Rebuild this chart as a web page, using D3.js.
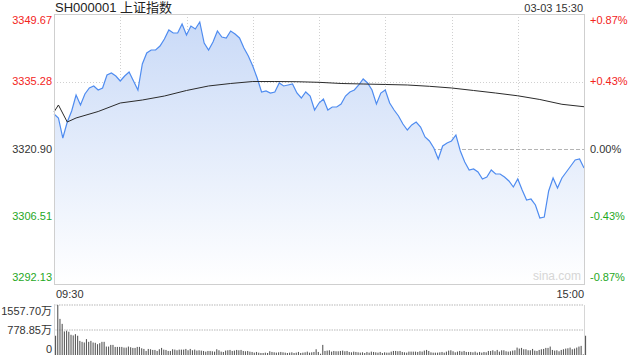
<!DOCTYPE html>
<html>
<head>
<meta charset="utf-8">
<script src="https://cdn.jsdelivr.net/npm/d3@7"></script>
<style>
body { margin: 0; background: #fff; }
svg { display: block; font-family: Arial, "Liberation Sans", "Noto Sans CJK SC", sans-serif; }
</style>
</head>
<body>
<div id="chart"></div>
<script>
var title = "SH000001 上证指数"
var stamp = "03-03 15:30"
var prevClose = 3320.90
var priceTicks = [3349.67, 3335.28, 3320.90, 3306.51, 3292.13]
var pctTicks = ["+0.87%", "+0.43%", "0.00%", "-0.43%", "-0.87%"]
var timeLabels = ["09:30", "15:00"]
var volTicks = [1557.70, 778.85, 0]
var volTickLabels = ["1557.70万", "778.85万", "0"]

// price every 2 minutes (minute index 0..240)
var price = [3328.36, 3327.51, 3323.24, 3326.65, 3329.00, 3332.41, 3330.28, 3332.62, 3333.90, 3334.33,
  3333.47, 3333.90, 3336.67, 3337.10, 3336.46, 3335.39, 3336.46, 3337.31, 3335.39, 3333.47,
  3339.01, 3341.36, 3342.00, 3342.00, 3342.85, 3344.34, 3346.26, 3345.62, 3345.62, 3347.54,
  3345.19, 3347.11, 3346.47, 3347.97, 3343.49, 3342.00, 3343.70, 3346.05, 3344.77, 3344.56,
  3346.05, 3345.41, 3344.56, 3342.42, 3340.72, 3338.59, 3336.03, 3333.05, 3333.26, 3332.83,
  3333.05, 3334.97, 3334.33, 3334.54, 3334.75, 3332.83, 3331.77, 3333.05, 3332.19, 3329.21,
  3330.70, 3331.56, 3329.21, 3329.85, 3329.85, 3330.49, 3332.19, 3333.05, 3333.47, 3334.54,
  3335.82, 3334.97, 3333.47, 3330.49, 3332.83, 3333.47, 3330.70, 3329.21, 3327.93, 3326.23,
  3324.95, 3326.02, 3326.65, 3325.59, 3323.46, 3322.61, 3321.11, 3318.77, 3321.54, 3322.18,
  3322.61, 3323.88, 3320.47, 3318.13, 3316.42, 3316.64, 3316.00, 3314.51, 3314.93, 3316.42,
  3315.57, 3315.57, 3314.93, 3314.08, 3312.80, 3314.51, 3312.16, 3310.03, 3310.24, 3308.97,
  3306.20, 3306.41, 3311.95, 3314.72, 3312.59, 3314.72, 3316.00, 3317.28, 3318.56, 3318.77,
  3316.85]

// average price line
var avgMinutes = [0, 2, 6, 10, 20, 30, 40, 50, 60, 70, 80, 90, 100, 110, 120, 130, 140, 150, 160, 170, 180, 190, 200, 210, 220, 230, 240]
var avgPrice = [3328.79, 3330.28, 3326.65, 3327.51, 3328.89, 3330.70, 3331.34, 3332.19, 3333.37, 3334.33,
  3334.86, 3335.28, 3335.28, 3335.24, 3335.11, 3334.86, 3334.75, 3334.65, 3334.54, 3334.26,
  3333.90, 3333.37, 3332.83, 3332.24, 3331.45, 3330.43, 3329.91]

// volume per minute, 万
var volume = [600, 1557.7, 1125, 970, 735, 757, 725, 630, 610, 650,
  600, 440, 410, 390, 495, 410, 440, 390, 380, 337,
  368, 410, 410, 263, 263, 315, 315, 252, 252, 252,
  252, 231, 231, 263, 242, 221, 221, 252, 252, 210,
  189, 126, 189, 179, 158, 158, 126, 179, 221, 168,
  158, 126, 126, 179, 168, 147, 168, 168, 168, 189,
  147, 189, 147, 168, 137, 147, 137, 126, 105, 126,
  126, 116, 105, 179, 147, 105, 95, 137, 147, 158,
  126, 137, 158, 147, 158, 126, 116, 126, 105, 95,
  74, 95, 74, 63, 63, 74, 63, 116, 95, 84,
  74, 84, 95, 84, 74, 63, 74, 84, 63, 74,
  95, 63, 74, 84, 105, 74, 84, 95, 179, 95,
  40, 315, 126, 137, 147, 105, 126, 116, 116, 126,
  137, 116, 126, 95, 84, 105, 95, 84, 74, 84,
  63, 95, 74, 105, 95, 84, 74, 95, 63, 84,
  74, 74, 105, 126, 126, 116, 126, 95, 84, 74,
  105, 105, 105, 105, 95, 116, 105, 137, 158, 126,
  84, 74, 74, 74, 84, 95, 74, 105, 137, 147,
  116, 84, 105, 126, 105, 126, 95, 95, 95, 84,
  105, 74, 95, 74, 95, 84, 126, 126, 147, 116,
  158, 105, 147, 147, 116, 105, 116, 137, 147, 231,
  200, 221, 179, 179, 147, 147, 189, 137, 126, 158,
  179, 189, 221, 221, 263, 158, 137, 147, 116, 158,
  179, 200, 210, 231, 179, 200, 231, 263, 284, 20,
  600]

var width = 640, height = 360
var left = 54, right = 584
var plotTop = 14, plotBottom = 284
var vTop = 305, vBottom = 355

var red = "#f3241c", green = "#1fa81f", dark = "#333"

var svg = d3.select("#chart").append("svg")
  .attr("width", width)
  .attr("height", height)

var x = d3.scaleLinear().domain([0, 240]).range([left, right])
var y = d3.scaleLinear().domain([priceTicks[4], priceTicks[0]]).range([plotBottom, plotTop])
var yv = d3.scaleLinear().domain([0, volTicks[0]]).range([vBottom, vTop])

var pts = price.map(function(p, i){ return [i * 2, p] })

var grad = svg.append("defs").append("linearGradient")
  .attr("id", "fillGrad")
  .attr("gradientUnits", "userSpaceOnUse")
  .attr("x1", 0).attr("y1", plotTop).attr("x2", 0).attr("y2", plotBottom)
grad.append("stop").attr("offset", "0%").attr("stop-color", "#c8d9f7")
grad.append("stop").attr("offset", "100%").attr("stop-color", "#ffffff")

// vertical grid
svg.append("g").selectAll("line")
  .data(d3.range(30, 240, 30))
  .enter().append("line")
  .attr("x1", function(d){ return Math.round(x(d)) + 0.5 })
  .attr("x2", function(d){ return Math.round(x(d)) + 0.5 })
  .attr("y1", plotTop).attr("y2", plotBottom)
  .attr("stroke", "#d0d0d0")
  .attr("stroke-dasharray", "1,2")

// horizontal grid
svg.append("g").selectAll("line")
  .data([priceTicks[1], priceTicks[2], priceTicks[3]])
  .enter().append("line")
  .attr("x1", left).attr("x2", right)
  .attr("y1", function(d){ return Math.round(y(d)) + 0.5 })
  .attr("y2", function(d){ return Math.round(y(d)) + 0.5 })
  .attr("stroke", function(d){ return d == prevClose ? "#b4b4b4" : "#d0d0d0" })
  .attr("stroke-dasharray", function(d){ return d == prevClose ? "4,2" : "1,2" })

// area + line
var area = d3.area()
  .x(function(d){ return x(d[0]) })
  .y0(plotBottom)
  .y1(function(d){ return y(d[1]) })

var line = d3.line()
  .x(function(d){ return x(d[0]) })
  .y(function(d){ return y(d[1]) })

svg.append("path")
  .attr("d", area(pts))
  .attr("fill", "url(#fillGrad)")

svg.append("text")
  .attr("x", right - 3).attr("y", plotBottom - 4)
  .attr("text-anchor", "end")
  .attr("font-size", 12)
  .attr("fill", "#d6d6d6")
  .text("sina.com")

svg.append("path")
  .attr("d", line(pts))
  .attr("fill", "none")
  .attr("stroke", "#4f8cf0")
  .attr("stroke-width", 1.2)

svg.append("path")
  .attr("d", line(avgMinutes.map(function(m, i){ return [m, avgPrice[i]] })))
  .attr("fill", "none")
  .attr("stroke", "#2b2b2b")
  .attr("stroke-width", 1)

// frame
svg.append("rect")
  .attr("x", left + 0.5).attr("y", plotTop + 0.5)
  .attr("width", right - left).attr("height", plotBottom - plotTop)
  .attr("fill", "none")
  .attr("stroke", "#cfcfcf")

// axis labels
function tickColor(v){ return v > prevClose ? red : (v < prevClose ? green : dark) }
function tickY(i){ return i == 0 ? y(priceTicks[0]) + 6 : (i == 4 ? y(priceTicks[4]) - 7 : y(priceTicks[i])) }

svg.append("g").selectAll("text")
  .data(priceTicks)
  .enter().append("text")
  .attr("x", left - 2)
  .attr("y", function(d, i){ return tickY(i) })
  .attr("dy", "0.35em")
  .attr("text-anchor", "end")
  .attr("font-size", 11)
  .attr("fill", tickColor)
  .text(function(d){ return d.toFixed(2) })

svg.append("g").selectAll("text")
  .data(pctTicks)
  .enter().append("text")
  .attr("x", right + 6)
  .attr("y", function(d, i){ return tickY(i) })
  .attr("dy", "0.35em")
  .attr("font-size", 11)
  .attr("fill", function(d, i){ return tickColor(priceTicks[i]) })
  .text(function(d){ return d })

svg.append("text")
  .attr("x", left + 1).attr("y", 12)
  .attr("font-size", 13)
  .attr("fill", "#222")
  .text(title)

svg.append("text")
  .attr("x", right - 1).attr("y", 12)
  .attr("text-anchor", "end")
  .attr("font-size", 11)
  .attr("fill", dark)
  .text(stamp)

svg.append("text")
  .attr("x", left + 2).attr("y", 298)
  .attr("font-size", 11).attr("fill", dark)
  .text(timeLabels[0])

svg.append("text")
  .attr("x", right).attr("y", 298)
  .attr("text-anchor", "end")
  .attr("font-size", 11).attr("fill", dark)
  .text(timeLabels[1])

// volume panel
svg.append("g").selectAll("line")
  .data([volTicks[0], volTicks[1]])
  .enter().append("line")
  .attr("x1", left).attr("x2", right)
  .attr("y1", function(d){ return Math.round(yv(d)) })
  .attr("y2", function(d){ return Math.round(yv(d)) })
  .attr("stroke", "#cfcfcf")
  .attr("stroke-width", 1.5)
  .attr("stroke-dasharray", "1.5,1")

svg.append("g").selectAll("line")
  .data([left, right])
  .enter().append("line")
  .attr("x1", function(d){ return d + 0.5 }).attr("x2", function(d){ return d + 0.5 })
  .attr("y1", vTop).attr("y2", vBottom)
  .attr("stroke", "#d6d6d6")

svg.append("g").selectAll("rect")
  .data(volume)
  .enter().append("rect")
  .attr("x", function(d, i){ return x(i) + 1 })
  .attr("y", function(d){ return yv(d) })
  .attr("width", 1.1)
  .attr("height", function(d){ return vBottom - yv(d) })
  .attr("fill", "#5a5a5a")

svg.append("g").selectAll("text")
  .data(volTickLabels)
  .enter().append("text")
  .attr("x", left - 2)
  .attr("y", function(d, i){ return i == 0 ? yv(volTicks[0]) + 6 : (i == 2 ? yv(0) - 6 : yv(volTicks[i])) })
  .attr("dy", "0.35em")
  .attr("text-anchor", "end")
  .attr("font-size", 11)
  .attr("fill", dark)
  .text(function(d){ return d })
</script>
</body>
</html>
